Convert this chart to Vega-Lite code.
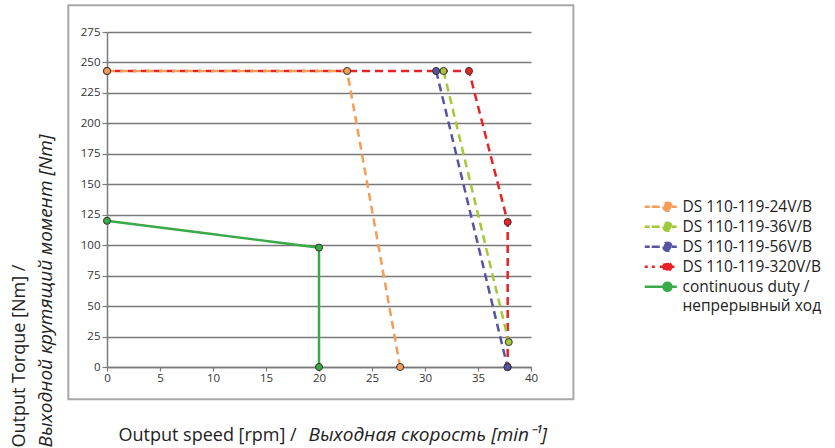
{
  "$schema": "https://vega.github.io/schema/vega-lite/v6.json",
  "width": 424,
  "height": 335,
  "autosize": "none",
  "padding": {"left": 107, "top": 32, "right": 304, "bottom": 81},
  "background": "white",
  "config": {"font": "Open Sans", "view": {"stroke": null}},
  "data": {
    "values": [
      {"series": "DS 110-119-320V/B", "speed": 0, "torque": 243, "ord": 1},
      {"series": "DS 110-119-320V/B", "speed": 34.15, "torque": 243, "ord": 2},
      {"series": "DS 110-119-320V/B", "speed": 37.8, "torque": 119, "ord": 3},
      {"series": "DS 110-119-320V/B", "speed": 37.8, "torque": 0, "ord": 4},
      {"series": "DS 110-119-56V/B", "speed": 31.05, "torque": 243, "ord": 2},
      {"series": "DS 110-119-56V/B", "speed": 37.78, "torque": 0, "ord": 3},
      {"series": "DS 110-119-36V/B", "speed": 31.75, "torque": 243, "ord": 2},
      {"series": "DS 110-119-36V/B", "speed": 37.9, "torque": 20.5, "ord": 3},
      {"series": "DS 110-119-24V/B", "speed": 0, "torque": 243, "ord": 1},
      {"series": "DS 110-119-24V/B", "speed": 22.65, "torque": 243, "ord": 2},
      {"series": "DS 110-119-24V/B", "speed": 27.65, "torque": 0, "ord": 3},
      {"series": "continuous duty", "speed": 0, "torque": 120, "ord": 1},
      {"series": "continuous duty", "speed": 20, "torque": 98, "ord": 2},
      {"series": "continuous duty", "speed": 20, "torque": 0, "ord": 3}
    ]
  },
  "resolve": {"axis": {"x": "independent", "y": "independent"}},
  "layer": [
    {
      "mark": {"type": "line", "strokeWidth": 2.5},
      "encoding": {
        "x": {
          "field": "speed", "type": "quantitative",
          "scale": {"domain": [0, 40], "nice": false, "zero": false},
          "axis": {
            "orient": "bottom",
            "values": [0, 5, 10, 15, 20, 25, 30, 35, 40],
            "grid": false, "labelFlush": false,
            "domainColor": "#7a7a7a", "domainWidth": 1.5,
            "tickColor": "#7a7a7a", "tickSize": 4, "tickWidth": 1.2,
            "labelFontSize": 11.5, "labelColor": "#333", "labelPadding": 1,
            "title": "Output speed [rpm] /",
            "titleFontSize": 18, "titleFontWeight": "normal", "titleColor": "#222",
            "titleX": 11, "titleY": 73, "titleAlign": "left", "titleBaseline": "alphabetic"
          }
        },
        "y": {
          "field": "torque", "type": "quantitative",
          "scale": {"domain": [0, 275], "nice": false},
          "axis": {
            "orient": "left",
            "values": [0, 25, 50, 75, 100, 125, 150, 175, 200, 225, 250, 275],
            "grid": true, "gridColor": "#7a7a7a", "gridWidth": 1.5, "gridOpacity": 1,
            "labelFlush": false,
            "domainColor": "#7a7a7a", "domainWidth": 1.5,
            "tickColor": "#7a7a7a", "tickSize": 5, "tickWidth": 1.2,
            "labelFontSize": 11.5, "labelColor": "#333", "labelPadding": 2,
            "title": "Output Torque [Nm] /",
            "titleFontSize": 18, "titleFontWeight": "normal", "titleColor": "#222",
            "titleAngle": -90, "titleX": -88, "titleY": 415, "titleAlign": "left", "titleBaseline": "middle"
          }
        },
        "color": {
          "field": "series", "type": "nominal",
          "scale": {
            "domain": ["DS 110-119-24V/B", "DS 110-119-36V/B", "DS 110-119-56V/B", "DS 110-119-320V/B", "continuous duty"],
            "range": ["#F59D56", "#A3C93A", "#5654A2", "#E92227", "#3AAA48"]
          },
          "legend": {
            "orient": "none", "legendX": 534, "legendY": 167,
            "title": null, "padding": 0,
            "symbolSize": 64, "labelFontSize": 15.5, "labelColor": "#222",
            "labelOffset": 26, "rowPadding": 1,
            "labelExpr": "datum.label == 'continuous duty' ? ['continuous duty /', 'непрерывный ход'] : datum.label",
            "encode": {
              "symbols": {
                "update": {
                  "shape": {"signal": "datum.value == 'continuous duty' ? 'M-1,0H3.67M5.67,0H7M3.67,0A1,1 0 1,0 5.67,0A1,1 0 1,0 3.67,0Z' : 'M-1,0H0.25M0.75,0H3.67M5.67,0H7M3.67,0A1,1 0 1,0 5.67,0A1,1 0 1,0 3.67,0Z'"},
                  "fill": {"signal": "scale('color', datum.value)"},
                  "stroke": {"signal": "scale('color', datum.value)"},
                  "strokeWidth": {"value": 2.5},
                  "strokeDash": {"value": [1, 0]},
                  "opacity": {"value": 1}
                }
              },
              "labels": {
                "update": {
                  "lineHeight": {"value": 19.5}
                }
              }
            }
          }
        },
        "strokeDash": {
          "field": "series", "type": "nominal",
          "scale": {
            "domain": ["DS 110-119-24V/B", "DS 110-119-36V/B", "DS 110-119-56V/B", "DS 110-119-320V/B", "continuous duty"],
            "range": [[8, 5], [8, 5], [8, 5], [3, 5, 5, 0], [1, 0]]
          },
          "legend": null
        },
        "order": {"field": "ord", "type": "quantitative"}
      }
    },
    {
      "mark": {"type": "point", "filled": true, "size": 50, "stroke": "#333", "strokeWidth": 1, "opacity": 1},
      "encoding": {
        "x": {"field": "speed", "type": "quantitative", "axis": null},
        "y": {"field": "torque", "type": "quantitative", "axis": null},
        "color": {"field": "series", "type": "nominal"}
      }
    },
    {
      "data": {"values": [{"x1": -3.65, "x2": 44, "y1": -26.5, "y2": 297}]},
      "mark": {"type": "rect", "filled": false, "stroke": "#a8a8a8", "strokeWidth": 2},
      "encoding": {
        "x": {
          "field": "x1", "type": "quantitative",
          "scale": {"domain": [0, 40], "nice": false, "zero": false},
          "axis": {
            "orient": "bottom", "domain": false, "labels": false, "ticks": false, "grid": false,
            "title": "Выходная скорость [min⁻¹]",
            "titleFontSize": 19, "titleFontWeight": "normal", "titleFontStyle": "italic", "titleColor": "#222",
            "titleX": 201, "titleY": 73, "titleAlign": "left", "titleBaseline": "alphabetic"
          }
        },
        "x2": {"field": "x2"},
        "y": {
          "field": "y1", "type": "quantitative",
          "scale": {"domain": [0, 275], "nice": false},
          "axis": {
            "orient": "left", "domain": false, "labels": false, "ticks": false, "grid": false,
            "title": "Выходной крутящий момент [Nm]",
            "titleFontSize": 19, "titleFontWeight": "normal", "titleFontStyle": "italic", "titleColor": "#222",
            "titleAngle": -90, "titleX": -62, "titleY": 415, "titleAlign": "left", "titleBaseline": "middle"
          }
        },
        "y2": {"field": "y2"}
      }
    }
  ]
}
